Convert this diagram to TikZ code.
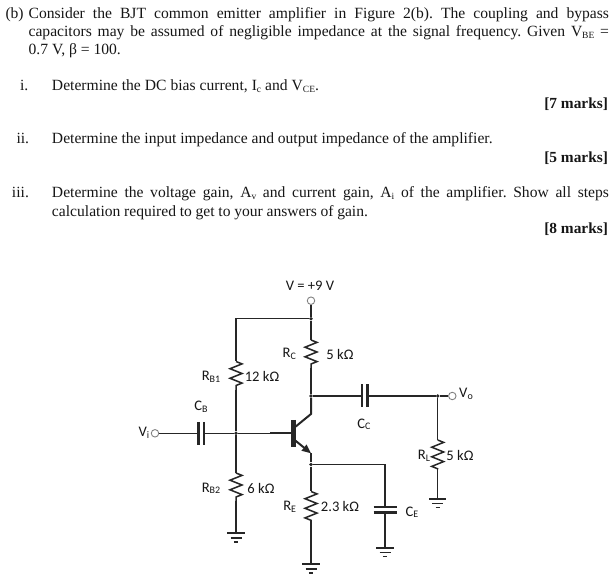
\documentclass[tikz,border=0pt]{standalone}
\usepackage{fontspec}
\setmainfont{Liberation Serif}
\newfontfamily\lblfont{Carlito}
\usetikzlibrary{decorations.pathmorphing,arrows.meta,calc}
\definecolor{ink}{HTML}{161616}
\definecolor{wire}{HTML}{262626}
\newcommand{\sbs}[1]{\raisebox{-0.2ex}{\fontsize{9.5}{9.5}\selectfont #1}}
\newcommand{\lbs}[1]{\raisebox{-0.25ex}{\fontsize{10}{10}\selectfont #1}}
\newcommand{\qline}[4]{\node[txt] (#1) at (#2) {\frenchspacing\makebox[#3pt][s]{#4}};}
\tikzset{
  txt/.style={anchor=base west,inner sep=0,outer sep=0,font=\fontsize{15.6}{15.6}\selectfont,text=ink},
  marks/.style={anchor=base east,inner sep=0,outer sep=0,font=\fontsize{15.4}{15.4}\selectfont\bfseries,text=ink},
  lbl/.style={inner sep=0,outer sep=0,font=\lblfont\fontsize{14.6}{14.6}\selectfont,text=ink},
  wr/.style={draw=wire,line width=1.15pt},
  thick wr/.style={draw=wire,line width=2pt},
  res/.style={draw=wire,line width=1.5pt,decorate,decoration={zigzag,segment length=9.6pt,amplitude=6pt}},
  plate/.style={draw=wire,line width=2.4pt},
  term/.style={circle,draw=gray,fill=white,line width=0.9pt,minimum size=7.5pt,inner sep=0},
  dot/.style={circle,fill=wire,minimum size=3.8pt,inner sep=0},
  gndpic/.pic={\draw[draw=wire,line width=1.7pt] (-8.7pt,0pt) -- (8.7pt,0pt) (-5.5pt,-4.4pt) -- (5.5pt,-4.4pt) (-2.2pt,-8.4pt) -- (2.2pt,-8.4pt);},
}
\begin{document}
\begin{tikzpicture}[x=1pt,y=-1pt]
\useasboundingbox (0,0) rectangle (614,577);
% question text
\node[txt] (qb) at (5.5,19) {(b)};
\qline{l1}{28.6,19}{580.4}{Consider the BJT common emitter amplifier in Figure 2(b). The coupling and bypass}
\qline{l2}{28.6,37}{580.4}{capacitors may be assumed of negligible impedance at the signal frequency. Given V\sbs{BE} =}
\node[txt] (l3) at (28.6,55) {0.7 V, β = 100.};
\node[txt] (ni) at (20,91) {i.};
\qline{i1}{52,91}{267}{Determine the DC bias current, I\sbs{c} and V\sbs{CE}.}
\node[marks] (m1) at (608,109) {[7 marks]};
\node[txt] (nii) at (16.5,144) {ii.};
\qline{ii1}{52,144}{440.6}{Determine the input impedance and output impedance of the amplifier.}
\node[marks] (m2) at (608,163) {[5 marks]};
\node[txt] (niii) at (12,198) {iii.};
\qline{iii1}{52,198}{557}{Determine the voltage gain, A\sbs{v} and current gain, A\sbs{i} of the amplifier. Show all steps}
\qline{iii2}{52,217}{316}{calculation required to get to your answers of gain.}
\node[marks] (m3) at (608,234) {[8 marks]};
% junctions and points
\node[term] (vcc) at (311,300.7) {};
\node[dot] (top) at (311,318.7) {};
\coordinate (tl) at (236,318.7);
\coordinate (rb1a) at (236,361.5);
\coordinate (rb1b) at (236,390);
\node[dot] (bj) at (236,433.3) {};
\coordinate (rb2a) at (236,473);
\coordinate (rb2b) at (236,501.5);
\coordinate (g1) at (236,533.3);
\coordinate (rca) at (311,340);
\coordinate (rcb) at (311,368.5);
\node[dot] (cj) at (311,396) {};
\coordinate (cstub) at (311,414);
\coordinate (cdiag) at (295.5,426.7);
\coordinate (barT) at (293.3,420);
\coordinate (barB) at (293.3,447.3);
\coordinate (bl) at (270,433.3);
\coordinate (bb) at (293.3,433.3);
\coordinate (ediag) at (295.5,440.7);
\coordinate (estub) at (311,453.3);
\node[dot] (ej) at (311,464.5) {};
\coordinate (ce0) at (385,464.5);
\coordinate (cet) at (385,507.3);
\coordinate (ceb) at (385,512.5);
\coordinate (g3) at (385,548);
\coordinate (rea) at (311,491.5);
\coordinate (reb) at (311,520.5);
\coordinate (g2) at (311,564.3);
\coordinate (cca) at (361.7,396);
\coordinate (ccb) at (367.3,396);
\node[dot] (oj) at (437.7,396) {};
\node[term] (vo) at (452.3,396) {};
\coordinate (rla) at (437.7,440);
\coordinate (rlb) at (437.7,469.5);
\coordinate (g4) at (437.7,499);
\node[term] (vi) at (155,433.3) {};
\coordinate (cba) at (198.3,433.3);
\coordinate (cbb) at (204,433.3);
% wires
\draw[wr] (vcc) -- (top);
\draw[wr] (top) -- (tl) -- (rb1a);
\draw[wr] (rb1b) -- (bj);
\draw[wr] (bj) -- (rb2a);
\draw[wr] (rb2b) -- (g1);
\draw[wr] (top) -- (rca);
\draw[wr] (rcb) -- (cj);
\draw[wr] (cj) -- (cca);
\draw[wr] (ccb) -- (oj);
\draw[wr] (oj) -- (vo);
\draw[wr] (oj) -- (rla);
\draw[wr] (rlb) -- (g4);
\draw[wr] (vi) -- (cba);
\draw[wr] (cbb) -- (bj);
\draw[wr] (bj) -- (bl);
\draw[wr] (ej) -- (ce0) -- (cet);
\draw[wr] (ceb) -- (g3);
\draw[wr] (ej) -- (rea);
\draw[wr] (reb) -- (g2);
% resistors
\draw[res] (rb1a) -- (rb1b);
\draw[res] (rb2a) -- (rb2b);
\draw[res] (rca) -- (rcb);
\draw[res] (rea) -- (reb);
\draw[res] (rla) -- (rlb);
% capacitors
\draw[plate] ($(cca)+(0,-11.5)$) -- ($(cca)+(0,11.5)$);
\draw[plate] ($(ccb)+(0,-11.5)$) -- ($(ccb)+(0,11.5)$);
\draw[plate] ($(cba)+(0,-11.5)$) -- ($(cba)+(0,11.5)$);
\draw[plate] ($(cbb)+(0,-11.5)$) -- ($(cbb)+(0,11.5)$);
\draw[plate] ($(cet)+(-11.5,0)$) -- ($(cet)+(11.5,0)$);
\draw[plate] ($(ceb)+(-11.5,0)$) -- ($(ceb)+(11.5,0)$);
% transistor
\draw[draw=wire,line width=4.6pt] (barT) -- (barB);
\draw[thick wr] (bl) -- (bb);
\draw[thick wr] (cj) -- (cstub) -- (cdiag);
\draw[thick wr,-{Triangle[length=9pt,width=7.5pt]}] (ediag) -- (estub);
\draw[thick wr] (estub) -- (ej);
% grounds
\pic at (g1) {gndpic};
\pic at (g2) {gndpic};
\pic at (g3) {gndpic};
\pic at (g4) {gndpic};
% labels
\node[lbl] (tv) at (310,285.7) {V = +9 V};
\node[lbl] (trc) at (289.3,354) {R\lbs{C}};
\node[lbl] (t5a) at (340,354.7) {5 kΩ};
\node[lbl] (trb1) at (211,376.7) {R\lbs{B1}};
\node[lbl] (t12) at (262,376.7) {12 kΩ};
\node[lbl] (tcb) at (201,406.7) {C\lbs{B}};
\node[lbl] (tvi) at (144,433) {V\lbs{i}};
\node[lbl] (tcc) at (364,424.3) {C\lbs{C}};
\node[lbl] (tvo) at (466,394) {V\lbs{o}};
\node[lbl] (trl) at (424,455.7) {R\lbs{L}};
\node[lbl] (t5b) at (460,455.7) {5 kΩ};
\node[lbl] (trb2) at (211,488.3) {R\lbs{B2}};
\node[lbl] (t6) at (261,488.3) {6 kΩ};
\node[lbl] (tre) at (289.7,506.7) {R\lbs{E}};
\node[lbl] (t23) at (340,506.7) {2.3 kΩ};
\node[lbl] (tce) at (412,512.3) {C\lbs{E}};
\end{tikzpicture}
\end{document}
